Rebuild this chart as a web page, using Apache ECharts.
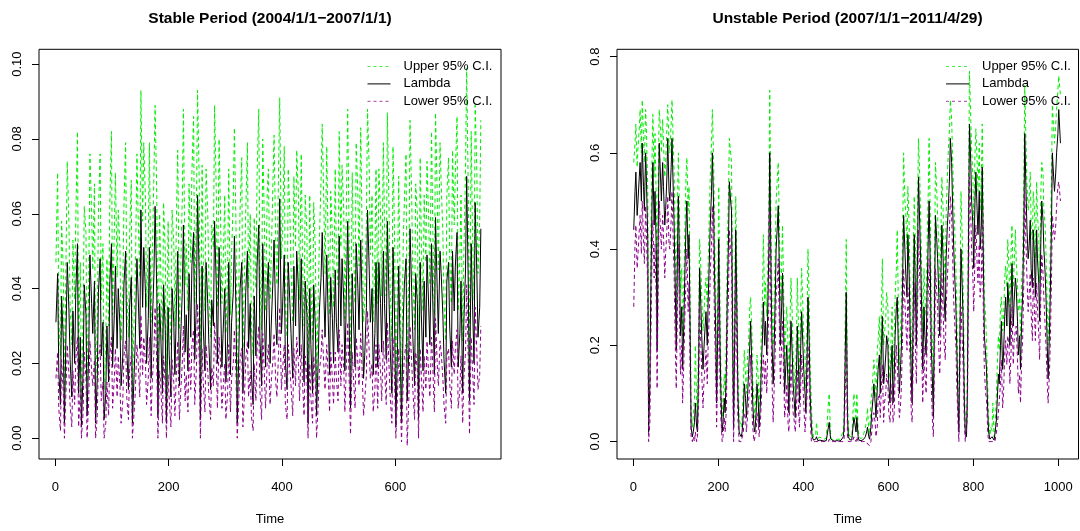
<!DOCTYPE html>
<html><head><meta charset="utf-8">
<script src="https://cdn.jsdelivr.net/npm/echarts@6/dist/echarts.min.js"></script>
<style>html,body{margin:0;padding:0;background:#fff}#c{width:1080px;height:531px}</style>
</head><body><div id="c"></div>
<script>
const leftTitle = 'Stable Period (2004/1/1\u22122007/1/1)';
const rightTitle = 'Unstable Period (2007/1/1\u22122011/4/29)';
const seriesNames = ['Upper 95% C.I.', 'Lambda', 'Lower 95% C.I.'];
const xAxisName = 'Time';
const leftXTicks = [0, 200, 400, 600];
const leftYTicks = [0, 0.02, 0.04, 0.06, 0.08, 0.10];
const rightXTicks = [0, 200, 400, 600, 800, 1000];
const rightYTicks = [0, 0.2, 0.4, 0.6, 0.8];

// Stable period, readings at t = 1, 6, 11, ...
const leftTime = [1,6,11,16,21,26,31,36,41,46,51,56,61,66,71,76,81,86,91,96,101,106,111,116,121,126,131,136,141,146,151,156,161,166,171,176,181,186,191,196,201,206,211,216,221,226,231,236,241,246,251,256,261,266,271,276,281,286,291,296,301,306,311,316,321,326,331,336,341,346,351,356,361,366,371,376,381,386,391,396,401,406,411,416,421,426,431,436,441,446,451,456,461,466,471,476,481,486,491,496,501,506,511,516,521,526,531,536,541,546,551,556,561,566,571,576,581,586,591,596,601,606,611,616,621,626,631,636,641,646,651,656,661,666,671,676,681,686,691,696,701,706,711,716,721,726,731,736,741,746,751];
const leftLambda = [
.031,.018,.038,.004,.047,.021,.034,.039,.012,.003,
.041,.006,.049,.028,.004,.039,.022,.005,.030,.041,
.019,.046,.040,.014,.041,.024,.035,.004,.026,.039,
.061,.051,.020,.051,.030,.062,.006,.028,.041,.004,
.022,.040,.017,.050,.026,.057,.033,.044,.046,.021,
.065,.005,.030,.047,.025,.037,.058,.020,.042,.028,
.015,.047,.031,.054,.004,.040,.012,.039,.024,.017,
.038,.046,.027,.052,.019,.047,.030,.053,.025,.064,
.035,.020,.047,.028,.046,.050,.022,.032,.042,.004,
.025,.041,.006,.034,.055,.027,.036,.043,.020,.031,
.054,.048,.018,.058,.008,.033,.052,.029,.039,.022,
.061,.031,.017,.047,.047,.023,.036,.058,.024,.051,
.003,.046,.004,.041,.010,.056,.027,.044,.005,.033,
.042,.049,.025,.038,.059,.028,.044,.021,.042,.030,
.050,.046,.019,.042,.031,.070,.010,.038,.063,.027,
.056];
const leftUpper = [
.047,.032,.058,.012,.074,.036,.053,.058,.024,.010,
.062,.015,.076,.045,.012,.060,.037,.013,.048,.062,
.033,.071,.061,.026,.062,.040,.054,.011,.042,.060,
.093,.079,.035,.079,.048,.089,.015,.045,.063,.011,
.037,.061,.030,.077,.043,.088,.052,.068,.071,.036,
.093,.013,.048,.072,.041,.057,.089,.035,.064,.045,
.028,.072,.049,.083,.011,.061,.024,.060,.040,.030,
.059,.070,.044,.080,.034,.072,.048,.081,.041,.091,
.055,.035,.072,.045,.070,.077,.037,.050,.065,.011,
.041,.063,.014,.053,.084,.044,.056,.066,.035,.049,
.082,.073,.032,.088,.018,.052,.079,.046,.060,.037,
.088,.049,.031,.072,.072,.038,.056,.087,.040,.078,
.009,.070,.010,.063,.020,.085,.044,.068,.013,.052,
.065,.074,.041,.058,.087,.045,.068,.036,.065,.048,
.077,.071,.034,.065,.049,.099,.020,.058,.089,.044,
.085];
const leftLower = [
.016,.008,.021,.000,.025,.009,.018,.021,.003,.000,
.023,.000,.026,.014,.000,.021,.010,.000,.015,.022,
.008,.024,.022,.004,.022,.011,.018,.000,.012,.021,
.033,.027,.009,.027,.015,.035,.000,.014,.022,.000,
.010,.021,.006,.026,.012,.030,.017,.024,.025,.009,
.036,.000,.015,.025,.011,.019,.031,.008,.022,.013,
.005,.025,.016,.029,.000,.021,.003,.021,.011,.006,
.020,.024,.013,.028,.008,.025,.015,.028,.011,.035,
.018,.009,.025,.014,.024,.027,.010,.016,.022,.000,
.011,.022,.000,.018,.029,.013,.019,.023,.009,.016,
.029,.025,.007,.031,.001,.017,.027,.014,.020,.010,
.034,.016,.007,.025,.025,.010,.019,.031,.011,.027,
.000,.024,-.001,.022,-.002,.030,.013,.023,.000,.017,
.022,.026,.011,.020,.032,.014,.023,.009,.022,.015,
.026,.024,.008,.022,.016,.041,.001,.020,.035,.013,
.030];

// Stable period, readings in between, at t = 4, 9, 14, ...
const leftTimeMid = [4,9,14,19,24,29,34,39,44,49,54,59,64,69,74,79,84,89,94,99,104,109,114,119,124,129,134,139,144,149,154,159,164,169,174,179,184,189,194,199,204,209,214,219,224,229,234,239,244,249,254,259,264,269,274,279,284,289,294,299,304,309,314,319,324,329,334,339,344,349,354,359,364,369,374,379,384,389,394,399,404,409,414,419,424,429,434,439,444,449,454,459,464,469,474,479,484,489,494,499,504,509,514,519,524,529,534,539,544,549,554,559,564,569,574,579,584,589,594,599,604,609,614,619,624,629,634,639,644,649,654,659,664,669,674,679,684,689,694,699,704,709,714,719,724,729,734,739,744,749];
const leftLambdaMid = [
.044,.009,.026,.030,.034,.011,.020,.052,.027,.018,
.033,.024,.036,.042,.016,.048,.031,.012,.015,.052,
.033,.024,.030,.022,.050,.013,.043,.017,.048,.024,
.035,.039,.032,.016,.044,.040,.036,.012,.029,.035,
.011,.031,.038,.014,.039,.023,.018,.027,.055,.037,
.042,.046,.018,.036,.013,.030,.041,.051,.019,.040,
.026,.017,.039,.033,.024,.047,.026,.050,.036,.009,
.022,.057,.014,.034,.041,.020,.042,.031,.045,.028,
.049,.013,.036,.016,.030,.040,.048,.015,.033,.040,
.012,.029,.021,.043,.038,.049,.017,.032,.045,.023,
.030,.037,.041,.027,.044,.019,.040,.053,.016,.035,
.045,.040,.028,.019,.036,.050,.021,.037,.012,.030,
.025,.020,.031,.048,.024,.039,.014,.036,.047,.018,
.027,.035,.052,.017,.040,.050,.033,.012,.047,.019,
.034,.055,.028,.012,.045,.039,.052,.020,.044,.035];
const leftUpperMid = [
.071,.022,.045,.051,.057,.025,.037,.082,.047,.034,
.055,.043,.060,.068,.031,.076,.052,.026,.030,.082,
.055,.043,.051,.040,.079,.027,.069,.033,.076,.043,
.058,.064,.054,.031,.071,.065,.060,.026,.050,.058,
.025,.052,.062,.029,.064,.041,.034,.047,.086,.061,
.068,.073,.034,.060,.027,.051,.066,.080,.036,.065,
.045,.033,.064,.055,.043,.075,.045,.079,.060,.022,
.040,.088,.029,.057,.066,.037,.068,.052,.072,.048,
.078,.027,.060,.031,.051,.065,.076,.030,.055,.065,
.026,.050,.038,.069,.062,.078,.033,.054,.072,.041,
.051,.061,.066,.047,.071,.036,.065,.083,.031,.058,
.072,.065,.048,.036,.060,.079,.038,.061,.026,.051,
.044,.037,.052,.076,.043,.064,.029,.060,.075,.034,
.047,.058,.082,.033,.065,.079,.055,.026,.075,.036,
.057,.086,.048,.026,.072,.064,.082,.037,.071,.058];
const leftLowerMid = [
.023,.002,.012,.014,.017,.003,.009,.027,.013,.007,
.016,.011,.018,.021,.006,.025,.015,.004,.006,.027,
.016,.011,.014,.010,.026,.005,.022,.007,.025,.011,
.017,.020,.016,.006,.023,.020,.018,.004,.014,.017,
.003,.015,.019,.005,.020,.010,.007,.013,.029,.019,
.021,.024,.007,.018,.005,.014,.021,.027,.008,.020,
.012,.007,.020,.016,.011,.024,.012,.026,.018,.002,
.010,.030,.005,.017,.021,.009,.021,.015,.023,.013,
.025,.005,.018,.006,.014,.020,.025,.006,.016,.020,
.004,.014,.009,.022,.019,.025,.007,.016,.023,.010,
.014,.019,.021,.013,.023,.008,.020,.028,.006,.017,
.023,.020,.013,.008,.018,.026,.009,.019,.004,.014,
.012,.009,.015,.025,.011,.020,.005,.018,.024,.007,
.013,.017,.027,.007,.020,.026,.016,.004,.024,.008,
.017,.029,.013,.004,.023,.020,.027,.009,.023,.017];

// Unstable period, readings at t = 1, 6, 11, ...
const rightTime = [1,6,11,16,21,26,31,36,41,46,51,56,61,66,71,76,81,86,91,96,101,106,111,116,121,126,131,136,141,146,151,156,161,166,171,176,181,186,191,196,201,206,211,216,221,226,231,236,241,246,251,256,261,266,271,276,281,286,291,296,301,306,311,316,321,326,331,336,341,346,351,356,361,366,371,376,381,386,391,396,401,406,411,416,421,426,431,436,441,446,451,456,461,466,471,476,481,486,491,496,501,506,511,516,521,526,531,536,541,546,551,556,561,566,571,576,581,586,591,596,601,606,611,616,621,626,631,636,641,646,651,656,661,666,671,676,681,686,691,696,701,706,711,716,721,726,731,736,741,746,751,756,761,766,771,776,781,786,791,796,801,806,811,816,821,826,831,836,841,846,851,856,861,866,871,876,881,886,891,896,901,906,911,916,921,926,931,936,941,946,951,956,961,966,971,976,981,986,991,996,1001,1005];
const rightLambda = [
.44,.56,.50,.58,.62,.48,.54,.02,.30,.58,
.52,.19,.62,.50,.53,.48,.63,.50,.63,.45,
.19,.51,.22,.15,.34,.50,.43,.03,.02,.08,
.02,.36,.22,.19,.27,.29,.45,.60,.35,.08,
.42,.10,.04,.06,.30,.54,.48,.03,.44,.10,
.015,.02,.12,.05,.14,.25,.08,.02,.12,.03,
.15,.29,.25,.26,.60,.22,.18,.40,.49,.20,
.35,.10,.20,.06,.25,.12,.05,.24,.08,.27,
.15,.06,.30,.10,.01,.003,.01,.002,.002,.002,
.001,.004,.04,.002,.001,.001,.002,.002,.005,.03,
.31,.01,.003,.002,.04,.05,.003,.002,.004,.01,
.03,.005,.06,.12,.05,.15,.10,.26,.14,.22,
.12,.15,.08,.22,.30,.10,.20,.47,.35,.43,
.25,.08,.43,.20,.55,.38,.15,.22,.30,.50,
.20,.05,.47,.38,.22,.45,.30,.38,.48,.63,
.50,.35,.20,.02,.40,.25,.02,.10,.66,.50,
.36,.56,.43,.40,.57,.22,.15,.02,.005,.01,
.005,.08,.12,.25,.18,.30,.33,.20,.37,.29,
.32,.18,.15,.30,.64,.45,.40,.36,.44,.30,
.38,.25,.50,.40,.30,.13,.30,.60,.52,.60,
.69,.62];
const rightUpper = [
.58,.66,.61,.69,.71,.58,.64,.06,.40,.68,
.64,.27,.69,.60,.62,.58,.70,.60,.71,.56,
.28,.60,.31,.22,.43,.59,.53,.06,.05,.20,
.05,.42,.30,.26,.34,.37,.55,.69,.45,.12,
.53,.15,.08,.10,.40,.63,.58,.07,.51,.16,
.04,.05,.19,.10,.20,.30,.13,.05,.18,.07,
.22,.43,.33,.35,.73,.31,.27,.50,.58,.29,
.45,.16,.28,.11,.34,.18,.10,.34,.14,.36,
.22,.11,.40,.16,.03,.01,.04,.005,.005,.006,
.004,.01,.10,.005,.004,.004,.005,.005,.015,.06,
.42,.03,.01,.006,.08,.10,.01,.006,.012,.03,
.07,.015,.10,.17,.09,.21,.16,.38,.20,.31,
.18,.20,.13,.30,.44,.16,.28,.60,.48,.53,
.33,.13,.51,.28,.63,.47,.23,.30,.40,.63,
.28,.09,.58,.47,.30,.55,.39,.47,.60,.71,
.60,.45,.28,.05,.52,.33,.04,.15,.77,.61,
.46,.65,.52,.48,.66,.30,.21,.05,.03,.08,
.02,.146,.19,.30,.25,.365,.42,.28,.45,.365,
.375,.27,.22,.365,.74,.54,.50,.45,.52,.38,
.47,.33,.58,.48,.39,.20,.40,.70,.62,.69,
.76,.72];
const rightLower = [
.28,.45,.39,.47,.50,.37,.43,.00,.20,.46,
.41,.11,.50,.40,.43,.39,.51,.40,.52,.35,
.11,.41,.14,.08,.25,.40,.33,.01,.01,.02,
.01,.28,.14,.12,.19,.20,.35,.49,.25,.03,
.30,.05,.01,.02,.21,.44,.38,.00,.35,.05,
.00,.00,.06,.02,.08,.18,.03,.00,.06,.01,
.08,.18,.17,.18,.48,.14,.10,.30,.38,.12,
.25,.05,.12,.02,.16,.06,.02,.15,.03,.18,
.08,.02,.20,.05,.00,.00,.00,.00,.00,.00,
.00,.00,.005,.00,.00,.00,.00,.00,.00,.005,
.20,.00,.00,.00,.01,.01,.00,.00,.00,.00,
-.005,-.008,.02,.06,.01,.09,.05,.16,.08,.14,
.06,.08,.04,.14,.20,.05,.12,.36,.25,.32,
.17,.04,.33,.12,.44,.28,.08,.14,.20,.38,
.12,.01,.36,.28,.14,.35,.21,.28,.38,.51,
.40,.25,.12,.00,.28,.16,.00,.05,.55,.40,
.27,.45,.33,.30,.46,.15,.09,.00,.00,.00,
.00,.03,.06,.17,.10,.21,.22,.12,.28,.21,
.24,.10,.08,.21,.52,.35,.30,.27,.34,.21,
.28,.17,.39,.30,.20,.08,.20,.47,.42,.49,
.54,.50];

// Unstable period, readings in between, at t = 4, 9, 14, ...
const rightTimeMid = [4,9,14,19,24,29,34,39,44,49,54,59,64,69,74,79,84,89,94,99,104,109,114,119,124,129,134,139,144,149,154,159,164,169,174,179,184,189,194,199,204,209,214,219,224,229,234,239,244,249,254,259,264,269,274,279,284,289,294,299,304,309,314,319,324,329,334,339,344,349,354,359,364,369,374,379,384,389,394,399,404,409,414,419,424,429,434,439,444,449,454,459,464,469,474,479,484,489,494,499,504,509,514,519,524,529,534,539,544,549,554,559,564,569,574,579,584,589,594,599,604,609,614,619,624,629,634,639,644,649,654,659,664,669,674,679,684,689,694,699,704,709,714,719,724,729,734,739,744,749,754,759,764,769,774,779,784,789,794,799,804,809,814,819,824,829,834,839,844,849,854,859,864,869,874,879,884,889,894,899,904,909,914,919,924,929,934,939,944,949,954,959,964,969,974,979,984,989,994,999];
const rightLambdaMid = [
.52,.47,.55,.50,.53,.60,.42,.12,.49,.45,
.40,.47,.55,.58,.45,.55,.52,.57,.52,.30,
.40,.35,.28,.25,.45,.38,.20,.01,.04,.03,
.18,.28,.15,.24,.20,.38,.52,.48,.22,.25,
.20,.02,.09,.15,.42,.50,.20,.25,.25,.02,
.01,.06,.09,.10,.20,.15,.03,.06,.08,.08,
.22,.20,.18,.40,.35,.12,.30,.45,.33,.28,
.22,.16,.12,.18,.18,.08,.15,.14,.20,.20,
.10,.18,.20,.03,.003,.005,.002,.003,.002,.001,
.002,.03,.006,.002,.001,.002,.001,.003,.01,.20,
.05,.004,.003,.05,.02,.01,.002,.003,.006,.02,
.01,.03,.09,.08,.11,.18,.20,.12,.18,.20,
.08,.20,.14,.28,.18,.16,.35,.40,.30,.35,
.14,.30,.30,.40,.45,.25,.28,.18,.42,.35,
.12,.30,.42,.30,.35,.38,.25,.45,.55,.58,
.40,.28,.08,.25,.32,.08,.01,.45,.58,.45,
.50,.48,.52,.45,.35,.18,.06,.005,.01,.003,
.04,.14,.20,.15,.26,.24,.28,.30,.24,.34,
.25,.22,.26,.45,.52,.38,.46,.32,.38,.44,
.33,.42,.46,.35,.20,.22,.45,.55,.56,.64];
const rightUpperMid = [
.62,.57,.65,.60,.63,.69,.52,.20,.59,.55,
.50,.57,.65,.67,.55,.65,.62,.66,.62,.40,
.50,.45,.36,.33,.55,.48,.28,.03,.09,.08,
.26,.36,.23,.32,.28,.48,.62,.58,.30,.33,
.28,.05,.14,.23,.52,.60,.28,.33,.33,.05,
.03,.11,.14,.18,.28,.23,.08,.11,.13,.13,
.30,.28,.26,.50,.45,.20,.40,.55,.43,.36,
.30,.24,.20,.26,.26,.13,.23,.22,.28,.28,
.18,.26,.28,.08,.009,.013,.007,.009,.007,.005,
.007,.08,.015,.007,.005,.007,.005,.009,.023,.28,
.10,.011,.009,.10,.043,.023,.007,.009,.015,.043,
.023,.08,.14,.13,.19,.26,.28,.20,.26,.28,
.13,.28,.22,.36,.26,.24,.45,.50,.40,.45,
.22,.40,.40,.50,.55,.33,.36,.26,.52,.45,
.20,.40,.52,.40,.45,.48,.33,.55,.65,.67,
.50,.36,.13,.33,.42,.13,.023,.55,.67,.55,
.60,.58,.62,.55,.45,.26,.11,.013,.023,.009,
.09,.22,.28,.23,.34,.32,.36,.40,.32,.44,
.33,.30,.34,.55,.62,.48,.56,.42,.48,.54,
.43,.52,.56,.45,.28,.30,.55,.65,.66,.73];
const rightLowerMid = [
.41,.36,.44,.39,.42,.49,.31,.04,.38,.34,
.29,.36,.44,.47,.34,.44,.41,.46,.41,.19,
.29,.24,.20,.17,.34,.27,.12,.00,.00,.00,
.10,.20,.07,.16,.12,.27,.41,.37,.14,.17,
.12,.00,.05,.07,.31,.39,.12,.17,.17,.00,
.00,.02,.05,.02,.12,.07,.00,.02,.04,.04,
.14,.12,.10,.29,.24,.04,.19,.34,.22,.20,
.14,.08,.04,.10,.10,.04,.07,.06,.12,.12,
.02,.10,.12,.00,.00,.00,.00,.00,.00,.00,
.00,.00,.00,.00,.00,.00,.00,.00,.00,.12,
.01,.00,.00,.01,.00,.00,.00,.00,.00,.00,
-.004,.00,.05,.04,.03,.10,.12,.04,.10,.12,
.04,.12,.06,.20,.10,.08,.24,.29,.19,.24,
.06,.19,.19,.29,.34,.17,.20,.10,.31,.24,
.04,.19,.31,.19,.24,.27,.17,.34,.44,.47,
.29,.20,.04,.17,.21,.04,.00,.34,.47,.34,
.39,.37,.41,.34,.24,.10,.02,.00,.00,.00,
.00,.06,.12,.07,.18,.16,.20,.19,.16,.23,
.17,.14,.18,.34,.41,.27,.35,.21,.27,.33,
.22,.31,.35,.24,.12,.14,.34,.44,.45,.53];

const GREEN = '#00ee00', BLACK = '#000000', PURPLE = '#8b008b';
const COLORS = [GREEN, BLACK, PURPLE];
const DASHES = [[4, 3], 'solid', [4, 3]];
const FONT = '"Liberation Sans", Arial, Helvetica, sans-serif';
const pairs = (t, v) => t.map((x, i) => [x, v[i]]);
const merged = (t1, v1, t2, v2) => pairs(t1, v1).concat(pairs(t2, v2)).sort((a, b) => a[0] - b[0]);

function mkSeries(gi, list) {
  return list.map((data, k) => ({
    type: 'line', name: seriesNames[k], xAxisIndex: gi, yAxisIndex: gi, symbol: 'none', showSymbol: false,
    animation: false, silent: true, clip: true, data: data,
    itemStyle: {color: COLORS[k]}, lineStyle: {color: COLORS[k], width: 1, type: DASHES[k]}
  }));
}

function xAx(gi, min, max, ticks) {
  return {type: 'value', gridIndex: gi, min: min, max: max,
    name: xAxisName, nameLocation: 'middle', nameGap: 54,
    nameTextStyle: {fontSize: 13, color: '#000', fontFamily: FONT},
    axisLine: {show: false, onZero: false}, splitLine: {show: false},
    axisTick: {show: true, inside: false, length: 7, customValues: ticks, lineStyle: {color: '#000', width: 1}},
    axisLabel: {customValues: ticks, margin: 21.5, fontSize: 13, color: '#000', fontFamily: FONT,
      formatter: v => String(v)}};
}
function yAx(gi, min, max, ticks, dec) {
  return {type: 'value', gridIndex: gi, min: min, max: max,
    axisLine: {show: false, onZero: false}, splitLine: {show: false},
    axisTick: {show: true, inside: false, length: 7, customValues: ticks, lineStyle: {color: '#000', width: 1}},
    axisLabel: {customValues: ticks, rotate: 90, margin: 15, fontSize: 13, color: '#000', fontFamily: FONT,
      formatter: v => Number(v).toFixed(dec)}};
}
function mkLegend(left) {
  return {
    data: seriesNames.map((n, k) => ({name: n,
      lineStyle: {color: COLORS[k], width: 1, type: k === 1 ? 'solid' : [3, 3], opacity: k === 1 ? 1 : 0.75}})),
    orient: 'vertical', left: left, top: 60, padding: 0,
    itemWidth: 23, itemHeight: 12, itemGap: 4.4, selectedMode: false,
    itemStyle: {opacity: 0},
    textStyle: {fontSize: 13, color: '#000', fontFamily: FONT, lineHeight: 12, padding: [0, 0, 0, 8]}};
}

const chart = echarts.init(document.getElementById('c'), null, {renderer: 'canvas'});
chart.setOption({
  animation: false,
  backgroundColor: '#ffffff',
  title: [
    {text: leftTitle, left: 270, top: 11, textAlign: 'center', padding: 0,
      textStyle: {fontSize: 15.5, fontWeight: 'bold', color: '#000', fontFamily: FONT}},
    {text: rightTitle, left: 847.5, top: 11, textAlign: 'center', padding: 0,
      textStyle: {fontSize: 15.5, fontWeight: 'bold', color: '#000', fontFamily: FONT}}
  ],
  legend: [mkLegend(367), mkLegend(945.5)],
  grid: [
    {left: 39, top: 49.3, width: 462, height: 414, show: true, borderColor: '#000', borderWidth: 1, backgroundColor: 'transparent'},
    {left: 617, top: 49.3, width: 461.5, height: 414, show: true, borderColor: '#000', borderWidth: 1, backgroundColor: 'transparent'}
  ],
  xAxis: [xAx(0, -28.9, 786.6, leftXTicks), xAx(1, -38.4, 1047.5, rightXTicks)],
  yAxis: [yAx(0, -0.00556, 0.10397, leftYTicks, 2), yAx(1, -0.0362, 0.8152, rightYTicks, 1)],
  series: mkSeries(0, [
      merged(leftTime, leftUpper, leftTimeMid, leftUpperMid),
      merged(leftTime, leftLambda, leftTimeMid, leftLambdaMid),
      merged(leftTime, leftLower, leftTimeMid, leftLowerMid)])
    .concat(mkSeries(1, [
      merged(rightTime, rightUpper, rightTimeMid, rightUpperMid),
      merged(rightTime, rightLambda, rightTimeMid, rightLambdaMid),
      merged(rightTime, rightLower, rightTimeMid, rightLowerMid)]))
});
</script></body></html>
